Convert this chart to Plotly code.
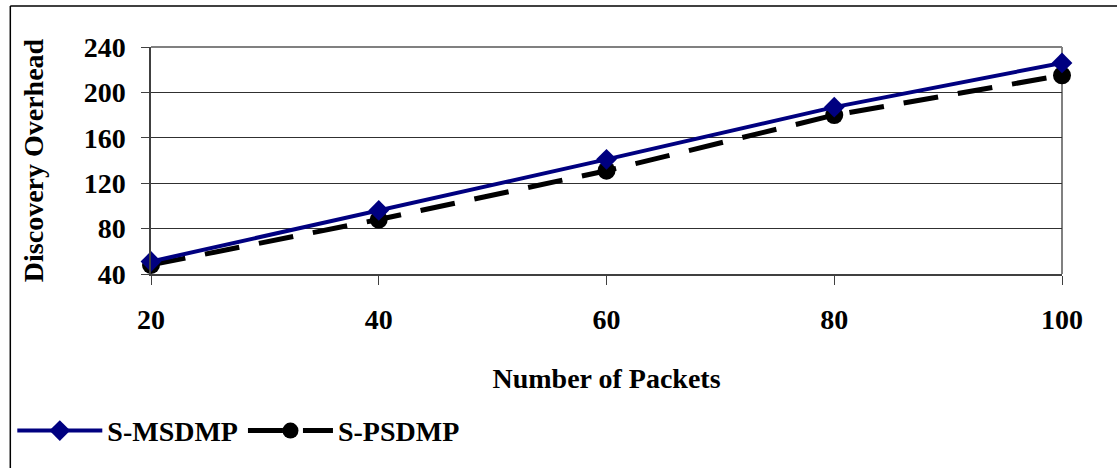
import plotly.graph_objects as go

packets = [20, 40, 60, 80, 100]
s_msdmp = [51, 96, 141, 187, 226]
s_psdmp = [48, 88, 131, 180, 215]
y_ticks = [40, 80, 120, 160, 200, 240]
x_ticks = [20, 40, 60, 80, 100]

W, H = 1117, 468
L, R, T, B = 149, 1117 - 1062, 47, 468 - 280
pw, ph = W - L - R, H - T - B

def px(x):
    return (x - L) / pw

def py(y):
    return (H - B - y) / ph

FS = 28
font = dict(family="Liberation Serif", size=FS, color="black")

fig = go.Figure()
fig.add_trace(go.Scatter(
    x=packets, y=s_psdmp, name="<b>S-PSDMP</b>", mode="lines+markers",
    line=dict(color="black", width=5, dash="35px,20px"),
    marker=dict(symbol="circle", size=18, color="black"),
    cliponaxis=False,
))
fig.add_trace(go.Scatter(
    x=packets, y=s_msdmp, name="<b>S-MSDMP</b>", mode="lines+markers",
    line=dict(color="#000080", width=4),
    marker=dict(symbol="diamond", size=16, color="#000080"),
    cliponaxis=False,
))

fig.update_layout(
    width=W, height=H,
    margin=dict(l=L, r=R, t=T, b=B),
    paper_bgcolor="white", plot_bgcolor="white",
    font=font,
    showlegend=True,
    legend=dict(orientation="h", x=px(10), y=py(441), xanchor="left", yanchor="middle",
                traceorder="reversed", font=dict(family="Liberation Serif", size=FS, color="black"),
                itemwidth=85, bgcolor="rgba(0,0,0,0)"),
    xaxis=dict(
        range=[20, 100], tickvals=x_ticks, ticktext=[f"<b>{v}</b>" for v in x_ticks],
        showgrid=False, zeroline=False,
        showline=True, linecolor="#404040", linewidth=1.5,
        ticks="outside", ticklen=9, tickcolor="#404040", tickwidth=1,
        ticklabelstandoff=11,
        tickfont=dict(family="Liberation Serif", size=FS, color="black"),
        title=dict(text="<b>Number of Packets</b>", standoff=34,
                   font=dict(family="Liberation Serif", size=FS, color="black")),
    ),
    yaxis=dict(
        range=[40, 240], tickvals=y_ticks, ticktext=[f"<b>{v}</b>" for v in y_ticks],
        showgrid=True, gridcolor="#303030", gridwidth=1, zeroline=False,
        showline=True, linecolor="#404040", linewidth=1.5,
        ticks="outside", ticklen=8, tickcolor="#404040", tickwidth=1,
        ticklabelstandoff=10,
        tickfont=dict(family="Liberation Serif", size=FS, color="black"),
        title=dict(text="<b>Discovery Overhead</b>", standoff=32,
                   font=dict(family="Liberation Serif", size=FS, color="black")),
    ),
    shapes=[
        dict(type="line", xref="paper", yref="paper", x0=0, x1=1, y0=1, y1=1,
             line=dict(color="#808080", width=2), layer="above"),
        dict(type="line", xref="paper", yref="paper", x0=1, x1=1, y0=0, y1=1,
             line=dict(color="#808080", width=2), layer="below"),
        dict(type="line", xref="paper", yref="paper", x0=px(8), x1=px(1130), y0=py(5), y1=py(5),
             line=dict(color="black", width=1.5)),
        dict(type="line", xref="paper", yref="paper", x0=px(8), x1=px(8), y0=py(5), y1=py(480),
             line=dict(color="black", width=1.5)),
    ],
)

fig.write_html("out.html")
